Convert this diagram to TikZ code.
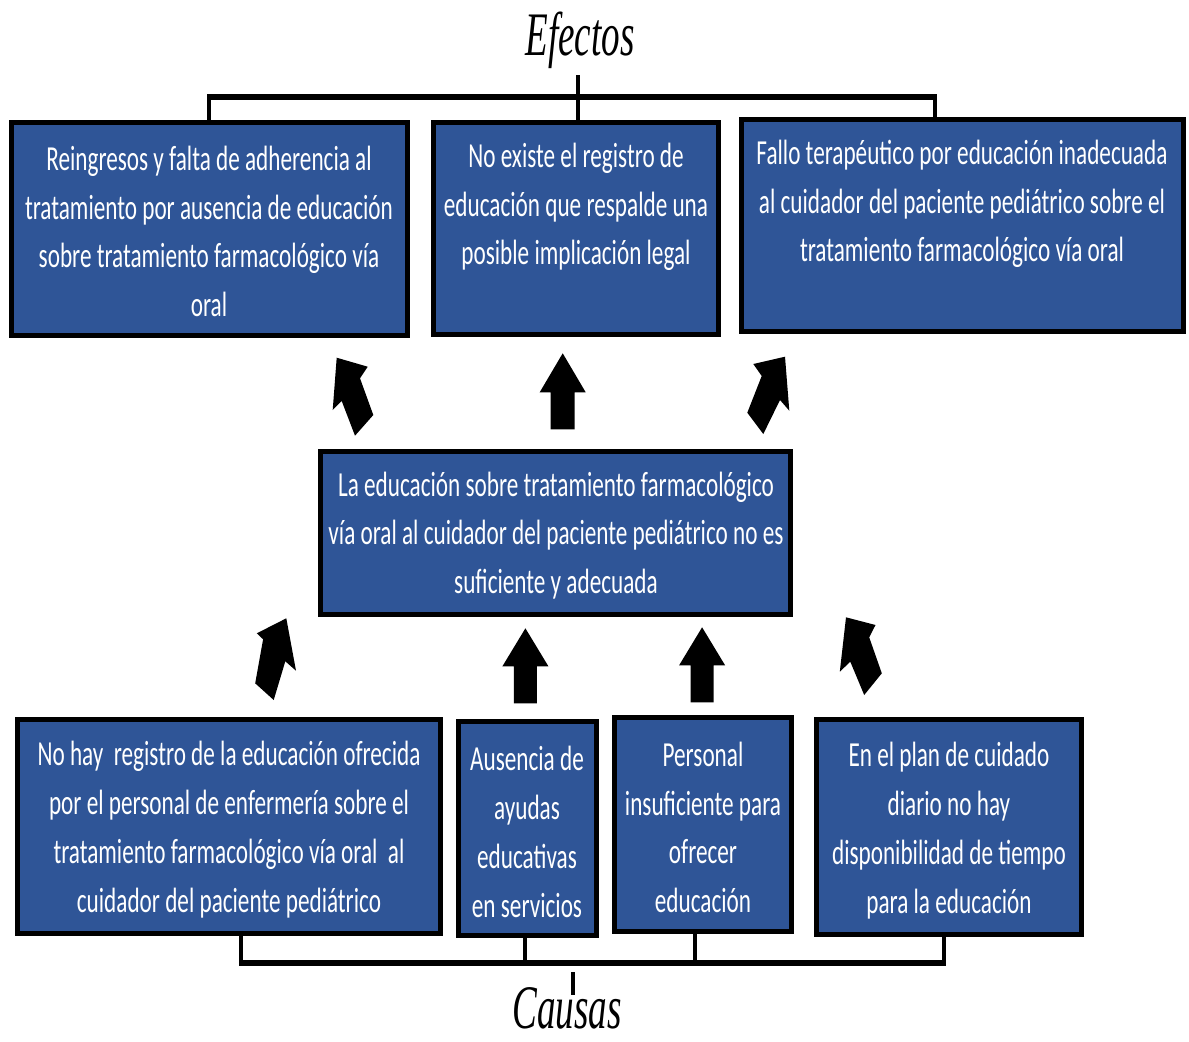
\documentclass[tikz,border=0pt]{standalone}
\usepackage{fontspec}
\newfontfamily\boxfont[FakeStretch=0.66]{Carlito}
\newfontfamily\headfont[FakeStretch=0.6]{Liberation Serif Italic}
\definecolor{boxblue}{RGB}{47,85,151}
\begin{document}
\begin{tikzpicture}[x=0.025cm,y=-0.025cm,
  box/.style={draw=black, line width=0.125cm, fill=boxblue, inner sep=0pt},
  boxtext/.style={text=white, font=\boxfont\fontsize{25}{34.7}\selectfont, align=center, inner sep=0pt},
  heading/.style={font=\headfont\fontsize{44}{48}\selectfont, inner sep=0pt},
  bar/.style={line width=0.15cm},
  stub/.style={line width=0.1cm},
  blockarrow/.style={fill=black}]
\useasboundingbox[fill=white] (0,0) rectangle (1189,1041);

% headings
\node[heading] (efectos) at (580,40) {Efectos};
\node[heading] (causas) at (567,1008) {Causas};

% effect boxes
\node[box, minimum width=9.9cm, minimum height=5.325cm] (e1) at (209.5,229) {};
\node[box, minimum width=7.125cm, minimum height=5.3cm] (e2) at (576,228.5) {};
\node[box, minimum width=11.05cm, minimum height=5.3cm] (e3) at (962.5,225.5) {};
\node[boxtext] (te1) at (209,231.5) {Reingresos y falta de adherencia al\\tratamiento por ausencia de educación\\sobre tratamiento farmacológico vía\\oral};
\node[boxtext] (te2) at (576,207) {No existe el registro de\\educación que respalde una\\posible implicación legal};
\node[boxtext] (te3) at (962,204) {Fallo terapéutico por educación inadecuada\\al cuidador del paciente pediátrico sobre el\\tratamiento farmacológico vía oral};

% central problem
\node[box, minimum width=11.75cm, minimum height=4.075cm] (m) at (555.5,533) {};
\node[boxtext] (tm) at (556,535.5) {La educación sobre tratamiento farmacológico\\vía oral al cuidador del paciente pediátrico no es\\suficiente y adecuada};

% cause boxes
\node[box, minimum width=10.575cm, minimum height=5.35cm] (c1) at (229,826.5) {};
\node[box, minimum width=3.45cm, minimum height=5.35cm] (c2) at (527.5,828.5) {};
\node[box, minimum width=4.425cm, minimum height=5.35cm] (c3) at (703,824.5) {};
\node[box, minimum width=6.625cm, minimum height=5.375cm] (c4) at (949,827) {};
\node[boxtext] (tc1) at (229,829.5) {No hay\ \ registro de la educación ofrecida\\por el personal de enfermería sobre el\\tratamiento farmacológico vía oral\ \ al\\cuidador del paciente pediátrico};
\node[boxtext] (tc2) at (527,832) {Ausencia de\\ayudas\\educativas\\en servicios};
\node[boxtext] (tc3) at (703,827.5) {Personal\\insuficiente para\\ofrecer\\educación};
\node[boxtext] (tc4) at (949,830.5) {En el plan de cuidado\\diario no hay\\disponibilidad de tiempo\\para la educación};

% top bracket joining the effects
\coordinate (tl) at (209,97);
\coordinate (tr) at (935,97);
\coordinate (tc) at (578,75);
\draw[bar] (207,97) -- (937,97);
\draw[stub] (tl) -- (e1.north -| tl);
\draw[stub] (tr) -- (935,122);
\draw[stub] (tc) -- (e2.north -| tc);

% bottom bracket joining the causes
\coordinate (b1) at (241,966);
\coordinate (b2) at (525,964);
\coordinate (b3) at (695,962);
\coordinate (b4) at (944,962);
\draw[bar] (239,963) -- (946,963);
\draw[stub] (c1.south -| b1) -- (b1);
\draw[stub] (c2.south -| b2) -- (b2);
\draw[stub] (c3.south -| b3) -- (b3);
\draw[stub] (c4.south -| b4) -- (b4);
\draw[stub] (573,972) -- (573,995);

% block arrows between the central problem and the effects
\fill[blockarrow, shift={(336.7,357.7)}] (0,0) -- (31,9) -- (23.3,20.6) -- (36.6,57.3) -- (18.3,78) -- (5,43.3) -- (-4,52.3) -- cycle;
\fill[blockarrow, shift={(562.7,353.3)}] (0,0) -- (23,39) -- (12,39) -- (12,76) -- (-12,76) -- (-12,39) -- (-23,39) -- cycle;
\fill[blockarrow, shift={(785,356.7)}] (0,0) -- (4.3,54) -- (-5,43.3) -- (-21.7,77.3) -- (-37.7,56) -- (-23.3,19.3) -- (-31.7,7.3) -- cycle;

% block arrows between the causes and the central problem
\fill[blockarrow, shift={(286.3,618.3)}] (0,0) -- (9.7,52.4) -- (-1,43) -- (-12.6,81.7) -- (-31.1,65) -- (-23.2,21) -- (-29.5,15) -- cycle;
\fill[blockarrow, shift={(525.4,628.3)}] (0,0) -- (23,38) -- (11.5,38) -- (11.5,75) -- (-11.5,75) -- (-11.5,38) -- (-23,38) -- cycle;
\fill[blockarrow, shift={(702.1,627.3)}] (0,0) -- (23,38) -- (11.5,38) -- (11.5,75) -- (-11.5,75) -- (-11.5,38) -- (-23,38) -- cycle;
\fill[blockarrow, shift={(846,617.3)}] (0,0) -- (29.5,7.7) -- (23.2,20) -- (35.8,56) -- (18.2,77.7) -- (4.3,44.4) -- (-6.2,54.4) -- cycle;
\end{tikzpicture}
\end{document}
